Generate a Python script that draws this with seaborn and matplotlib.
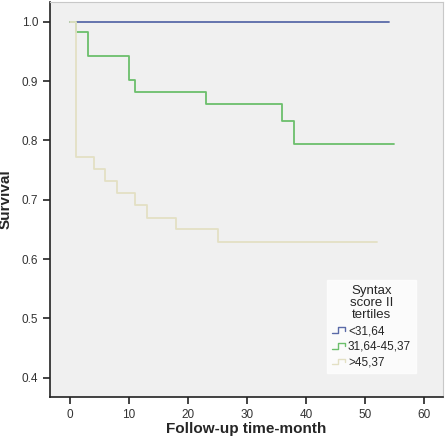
import numpy as np
import pandas as pd
import matplotlib
matplotlib.use("Agg")
import matplotlib.pyplot as plt
import seaborn as sns
from matplotlib.legend_handler import HandlerBase
from matplotlib.lines import Line2D

# Kaplan-Meier steps
groups = ['<31,64', '31,64-45,37', '>45,37']
low_time = [0, 54]
low_surv = [1.0, 1.0]
mid_time = [0, 1, 3, 10, 11, 23, 36, 38, 55]
mid_surv = [1.0, 0.982, 0.942, 0.902, 0.882, 0.862, 0.832, 0.794, 0.794]
high_time = [0, 1, 4, 6, 8, 11, 13, 18, 25, 52]
high_surv = [1.0, 0.772, 0.752, 0.732, 0.711, 0.691, 0.670, 0.650, 0.629, 0.629]

colors = ['#5a6aa8', '#6cbf6c', '#e3e0c4']

frames = []
for g, t, s in zip(groups, [low_time, mid_time, high_time], [low_surv, mid_surv, high_surv]):
    frames.append(pd.DataFrame({'time': t, 'surv': s, 'group': g}))
df = pd.concat(frames, ignore_index=True)

sns.set_style('ticks')
plt.rcParams['font.family'] = ['Liberation Sans', 'DejaVu Sans']

fig = plt.figure(figsize=(4.46, 4.42), dpi=100)
ax = fig.add_axes([0.112, 0.102, 0.881, 0.893])
ax.set_facecolor('#f0f0f0')

for g, c in zip(groups, colors):
    sub = df[df['group'] == g]
    sns.lineplot(data=sub, x='time', y='surv', drawstyle='steps-post',
                 color=c, linewidth=1.3, ax=ax, legend=False, estimator=None)

ax.set_xlim(-3.4, 63.2)
ax.set_ylim(0.3675, 1.033)
ax.set_xticks([0, 10, 20, 30, 40, 50, 60])
ax.set_yticks([0.4, 0.5, 0.6, 0.7, 0.8, 0.9, 1.0])
ax.set_yticklabels(['0.4', '0.5', '0.6', '0.7', '0.8', '0.9', '1.0'])
ax.tick_params(labelsize=8.5, colors='#222222', length=5, width=1.2, labelcolor='#333333')
for side in ['top', 'right']:
    ax.spines[side].set_visible(True)
    ax.spines[side].set_color('#c8c8c8')
for side in ['left', 'bottom']:
    ax.spines[side].set_color('#222222')
    ax.spines[side].set_linewidth(1.2)
ax.set_xlabel('Follow-up time-month', fontsize=11, fontweight='bold')
ax.set_ylabel('Survival', fontsize=11, fontweight='bold')
ax.xaxis.set_label_coords(0.5, -0.063)
ax.yaxis.set_label_coords(-0.095, 0.5)


class StepHandler(HandlerBase):
    def create_artists(self, legend, orig_handle, xdescent, ydescent,
                       width, height, fontsize, trans):
        w = width
        xs = [0, w * 0.4, w * 0.4, w * 0.85, w * 0.85]
        ys = [0.1 * height, 0.1 * height, 0.8 * height, 0.8 * height, 0.4 * height]
        line = Line2D(xs, ys, color=orig_handle.get_color(), linewidth=1.0, transform=trans)
        return [line]


handles = [Line2D([], [], color=c) for c in colors]
leg = ax.legend(handles, groups, title='Syntax\nscore II\ntertiles',
                handler_map={Line2D: StepHandler()},
                loc='lower right', bbox_to_anchor=(0.931, 0.061),
                fontsize=8.5, title_fontsize=9.5, frameon=True, fancybox=False,
                handlelength=1.3, handletextpad=0.05, labelspacing=0.3,
                borderpad=0.4, borderaxespad=0)
leg.get_frame().set_edgecolor('white')
leg.get_frame().set_facecolor('white')
leg.get_title().set_multialignment('center')
leg.get_title().set_linespacing(1.05)

fig.savefig('out.png', dpi=100)
